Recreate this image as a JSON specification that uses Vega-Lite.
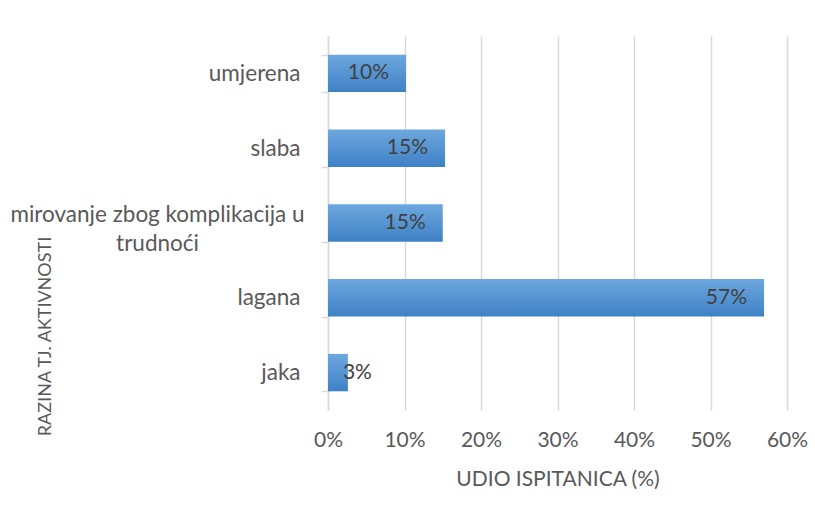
{
  "$schema": "https://vega.github.io/schema/vega-lite/v6.json",
  "width": 459,
  "height": 374,
  "autosize": {"type": "none"},
  "padding": {"left": 328, "top": 36, "right": 28, "bottom": 96},
  "background": "white",
  "config": {"view": {"stroke": null}, "font": "Lato"},
  "data": {
    "values": [
      {"level": "umjerena", "share": 0.102},
      {"level": "slaba", "share": 0.153},
      {"level": "mirovanje zbog komplikacija u trudnoći", "share": 0.15},
      {"level": "lagana", "share": 0.57},
      {"level": "jaka", "share": 0.026}
    ]
  },
  "encoding": {
    "y": {
      "field": "level",
      "type": "nominal",
      "sort": ["umjerena", "slaba", "mirovanje zbog komplikacija u trudnoći", "lagana", "jaka"],
      "scale": {"paddingInner": 0.5, "paddingOuter": 0.25},
      "axis": {
        "title": "RAZINA TJ. AKTIVNOSTI",
        "domainColor": "#D9D9D9",
        "domainWidth": 1.5,
        "tickColor": "#D9D9D9",
        "tickWidth": 1.5,
        "tickSize": 7,
        "tickBand": "extent",
        "labelFontSize": 22.5,
        "labelColor": "#595959",
        "labelLimit": 0,
        "labelLineHeight": 29,
        "labelExpr": "datum.value === 'mirovanje zbog komplikacija u trudnoći' ? ['mirovanje zbog komplikacija u', 'trudnoći'] : datum.value",
        "labelAlign": {"condition": {"test": "datum.value === 'mirovanje zbog komplikacija u trudnoći'", "value": "center"}, "value": "right"},
        "labelPadding": {"condition": {"test": "datum.value === 'mirovanje zbog komplikacija u trudnoći'", "value": 164}, "value": 21},
        "labelOffset": {"condition": {"test": "datum.value === 'mirovanje zbog komplikacija u trudnoći'", "value": -9}, "value": 0},
        "titleAngle": -90,
        "titleX": -283,
        "titleY": 300,
        "titleAlign": "center",
        "titleBaseline": "middle",
        "titleFontSize": 18,
        "titleFontWeight": "normal",
        "titleColor": "#595959"
      }
    },
    "x": {
      "field": "share",
      "type": "quantitative",
      "scale": {"domain": [0, 0.6], "nice": false},
      "axis": {
        "format": ".0%",
        "values": [0, 0.1, 0.2, 0.3, 0.4, 0.5, 0.6],
        "domain": false,
        "ticks": false,
        "grid": true,
        "gridColor": "#D9D9D9",
        "gridWidth": 1.5,
        "labelFlush": false,
        "labelFontSize": 21,
        "labelColor": "#595959",
        "labelPadding": 19,
        "title": "UDIO ISPITANICA (%)",
        "titleFontSize": 21,
        "titleFontWeight": "normal",
        "titleColor": "#595959",
        "titlePadding": 18
      }
    }
  },
  "layer": [
    {
      "mark": {
        "type": "bar",
        "color": {
          "gradient": "linear",
          "x1": 0, "y1": 0, "x2": 0, "y2": 1,
          "stops": [
            {"offset": 0, "color": "#6DA7DE"},
            {"offset": 1, "color": "#3F81C6"}
          ]
        }
      }
    },
    {
      "transform": [{"filter": "datum.share >= 0.05"}],
      "mark": {"type": "text", "align": "right", "baseline": "middle", "dx": -17, "fontSize": 21, "color": "#404040"},
      "encoding": {"text": {"field": "share", "type": "quantitative", "format": ".0%"}}
    },
    {
      "transform": [{"filter": "datum.share < 0.05"}],
      "mark": {"type": "text", "align": "left", "baseline": "middle", "dx": -5, "fontSize": 21, "color": "#404040"},
      "encoding": {"text": {"field": "share", "type": "quantitative", "format": ".0%"}}
    }
  ]
}
